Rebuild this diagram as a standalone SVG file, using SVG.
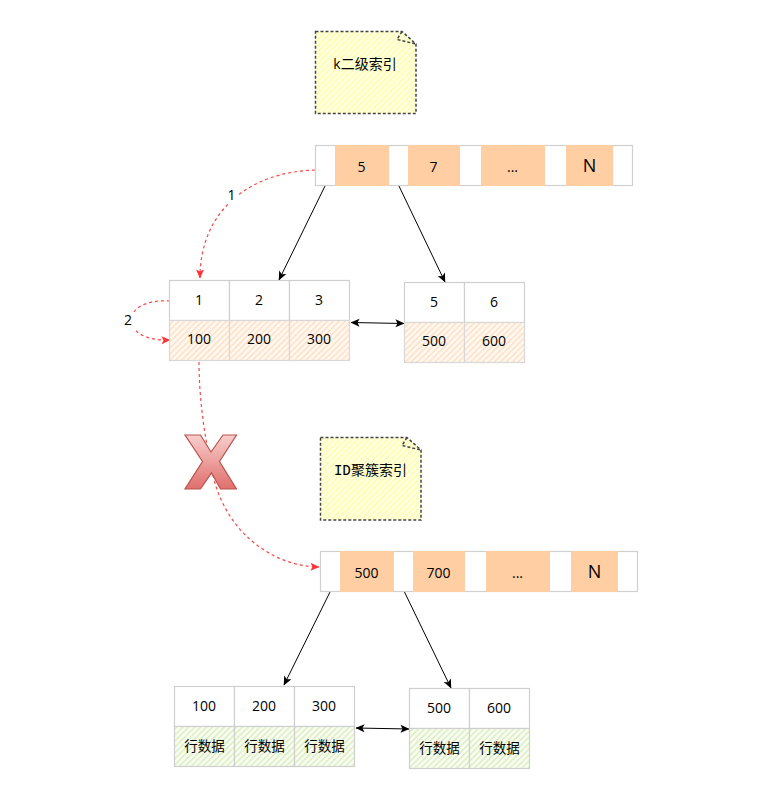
<svg xmlns="http://www.w3.org/2000/svg" width="782" height="805" viewBox="0 0 782 805">
<style>
text{font-family:"Open Sans","Noto Sans CJK SC",sans-serif;font-size:14px;fill:#000;text-anchor:middle}
.mono{font-family:"DejaVu Sans Mono",monospace}
.cell{stroke:#cfcfcf;stroke-width:1.2;fill:#fff}
.white{fill:#fff;stroke:#d0d0d0;stroke-width:1.2}
.o{fill:url(#po);stroke:#d8d8d8;stroke-width:1.2}
.g{fill:url(#pg);stroke:#cfcfcf;stroke-width:1.2}
.k{fill:#ffcfa3;stroke:none}
.note{fill:url(#py);stroke:#444;stroke-width:1.5;stroke-dasharray:3 2}
.fold{fill:none;stroke:#444;stroke-width:1.5;stroke-dasharray:3 2}
.blk{fill:none;stroke:#000;stroke-width:1}
.red{fill:none;stroke:#ff4444;stroke-width:1.2;stroke-dasharray:3 3}
</style>
<defs>
<pattern id="py" width="4.2" height="4.2" patternUnits="userSpaceOnUse" patternTransform="rotate(-45)"><rect width="4.2" height="4.2" fill="#ffffe6"/><rect width="4.2" height="1.6" fill="#ffffaa"/></pattern>
<pattern id="po" width="4.2" height="4.2" patternUnits="userSpaceOnUse" patternTransform="rotate(-45)"><rect width="4.2" height="4.2" fill="#fff8f0"/><rect width="4.2" height="1.5" fill="#ffe0c6"/></pattern>
<pattern id="pg" width="4.2" height="4.2" patternUnits="userSpaceOnUse" patternTransform="rotate(-45)"><rect width="4.2" height="4.2" fill="#f8fcf2"/><rect width="4.2" height="1.5" fill="#dcefc0"/></pattern>
<linearGradient id="xg" x1="0" y1="0" x2="0" y2="1"><stop offset="0" stop-color="#f8cecc"/><stop offset="1" stop-color="#e06f6c"/></linearGradient>
<marker id="ab" markerWidth="11" markerHeight="10" refX="9.5" refY="5" orient="auto" markerUnits="userSpaceOnUse"><path d="M1 1L10 5L1 9L3 5Z" fill="#000"/></marker>
<marker id="as" markerWidth="11" markerHeight="10" refX="1.5" refY="5" orient="auto" markerUnits="userSpaceOnUse"><path d="M10 1L1 5L10 9L8 5Z" fill="#000"/></marker>
<marker id="ar" markerWidth="11" markerHeight="10" refX="9.5" refY="5" orient="auto" markerUnits="userSpaceOnUse"><path d="M1 1L10 5L1 9L3 5Z" fill="#ff3333"/></marker>
</defs>
<rect width="782" height="805" fill="#fff"/>

<g id="connectors">
<path class="blk" d="M325 186L279 280" marker-end="url(#ab)"/>
<path class="blk" d="M398 184L445 282" marker-end="url(#ab)"/>
<path class="blk" d="M351 322.500L404 323.500" marker-start="url(#as)" marker-end="url(#ab)"/>
<path class="blk" d="M330 592L284 685" marker-end="url(#ab)"/>
<path class="blk" d="M404 591L451 688" marker-end="url(#ab)"/>
<path class="blk" d="M356 728L409 729" marker-start="url(#as)" marker-end="url(#ab)"/>
<path class="red" d="M315 170C250 172 200 210 200 278" marker-end="url(#ar)"/>
<path class="red" d="M170 301C118 298 118 342 170 340" marker-end="url(#ar)"/>
<path class="red" d="M199 362C199 400 205 440 213 475C225 530 270 566 319 567" marker-end="url(#ar)"/>
</g>

<g id="edge-label-1"><rect x="226" y="187" width="11" height="16" fill="#fff"/><text x="231.500" y="200">1</text></g>
<g id="edge-label-2"><rect x="120" y="312" width="16" height="17" fill="#fff"/><text x="128" y="325">2</text></g>

<g id="cross"><path d="M185 435L200.500 435L211 452L223 435L236.500 435L219.500 461.500L236.500 489L220.500 489L211.500 473L200.500 489L185 489L202.500 461.500Z" fill="url(#xg)" stroke="#b85450" stroke-width="1.2"/></g>

<g id="note-k">
<path class="note" d="M315.500 31.500H402L416 44V113.500H315.500Z"/>
<path class="fold" d="M402 31.500L397 39.500L416 44"/>
<text x="365" y="69">k二级索引</text>
</g>

<g id="root-k">
<rect class="white" x="315.500" y="145.500" width="317" height="40"/>
<rect class="k" x="335" y="145" width="54" height="41"/>
<rect class="k" x="408" y="145" width="52" height="41"/>
<rect class="k" x="481" y="145" width="64" height="41"/>
<rect class="k" x="566" y="145" width="47" height="41"/>
<text x="361.500" y="172">5</text>
<text x="433.500" y="172">7</text>
<text x="512.500" y="172">...</text>
<text x="589.500" y="172" style="font-size:18px">N</text>
</g>

<g id="leaf-k-1">
<rect class="cell" x="169.500" y="280.500" width="60" height="40"/>
<rect class="cell" x="229.500" y="280.500" width="60" height="40"/>
<rect class="cell" x="289.500" y="280.500" width="60" height="40"/>
<rect class="o" x="169.500" y="320.500" width="60" height="40"/>
<rect class="o" x="229.500" y="320.500" width="60" height="40"/>
<rect class="o" x="289.500" y="320.500" width="60" height="40"/>
<text x="199" y="305">1</text><text x="259" y="305">2</text><text x="319" y="305">3</text>
<text x="199" y="344">100</text><text x="259" y="344">200</text><text x="319" y="344">300</text>
</g>

<g id="leaf-k-2">
<rect class="cell" x="404.500" y="282.500" width="60" height="40"/>
<rect class="cell" x="464.500" y="282.500" width="60" height="40"/>
<rect class="o" x="404.500" y="322.500" width="60" height="40"/>
<rect class="o" x="464.500" y="322.500" width="60" height="40"/>
<text x="434" y="307">5</text><text x="494" y="307">6</text>
<text x="434" y="346">500</text><text x="494" y="346">600</text>
</g>

<g id="note-id">
<path class="note" d="M320.500 437.500H407L421 450V520H320.500Z"/>
<path class="fold" d="M407 437.500L402 445.500L421 450"/>
<text x="370.500" y="475"><tspan class="mono">ID</tspan>聚簇索引</text>
</g>

<g id="root-id">
<rect class="white" x="320.500" y="551.500" width="317" height="40"/>
<rect class="k" x="340" y="551" width="54" height="41"/>
<rect class="k" x="413" y="551" width="52" height="41"/>
<rect class="k" x="486" y="551" width="64" height="41"/>
<rect class="k" x="571" y="551" width="47" height="41"/>
<text x="366.500" y="578">500</text>
<text x="438.500" y="578">700</text>
<text x="517.500" y="578">...</text>
<text x="594.500" y="578" style="font-size:18px">N</text>
</g>

<g id="leaf-id-1">
<rect class="cell" x="174.500" y="686.500" width="60" height="40"/>
<rect class="cell" x="234.500" y="686.500" width="60" height="40"/>
<rect class="cell" x="294.500" y="686.500" width="60" height="40"/>
<rect class="g" x="174.500" y="726.500" width="60" height="40"/>
<rect class="g" x="234.500" y="726.500" width="60" height="40"/>
<rect class="g" x="294.500" y="726.500" width="60" height="40"/>
<text x="204" y="711">100</text><text x="264" y="711">200</text><text x="324" y="711">300</text>
<text x="204.500" y="751" style="font-size:13.500px">行数据</text><text x="264.500" y="751" style="font-size:13.500px">行数据</text><text x="324.500" y="751" style="font-size:13.500px">行数据</text>
</g>

<g id="leaf-id-2">
<rect class="cell" x="409.500" y="688.500" width="60" height="40"/>
<rect class="cell" x="469.500" y="688.500" width="60" height="40"/>
<rect class="g" x="409.500" y="728.500" width="60" height="40"/>
<rect class="g" x="469.500" y="728.500" width="60" height="40"/>
<text x="439" y="713">500</text><text x="499" y="713">600</text>
<text x="439.500" y="753" style="font-size:13.500px">行数据</text><text x="499.500" y="753" style="font-size:13.500px">行数据</text>
</g>
</svg>
